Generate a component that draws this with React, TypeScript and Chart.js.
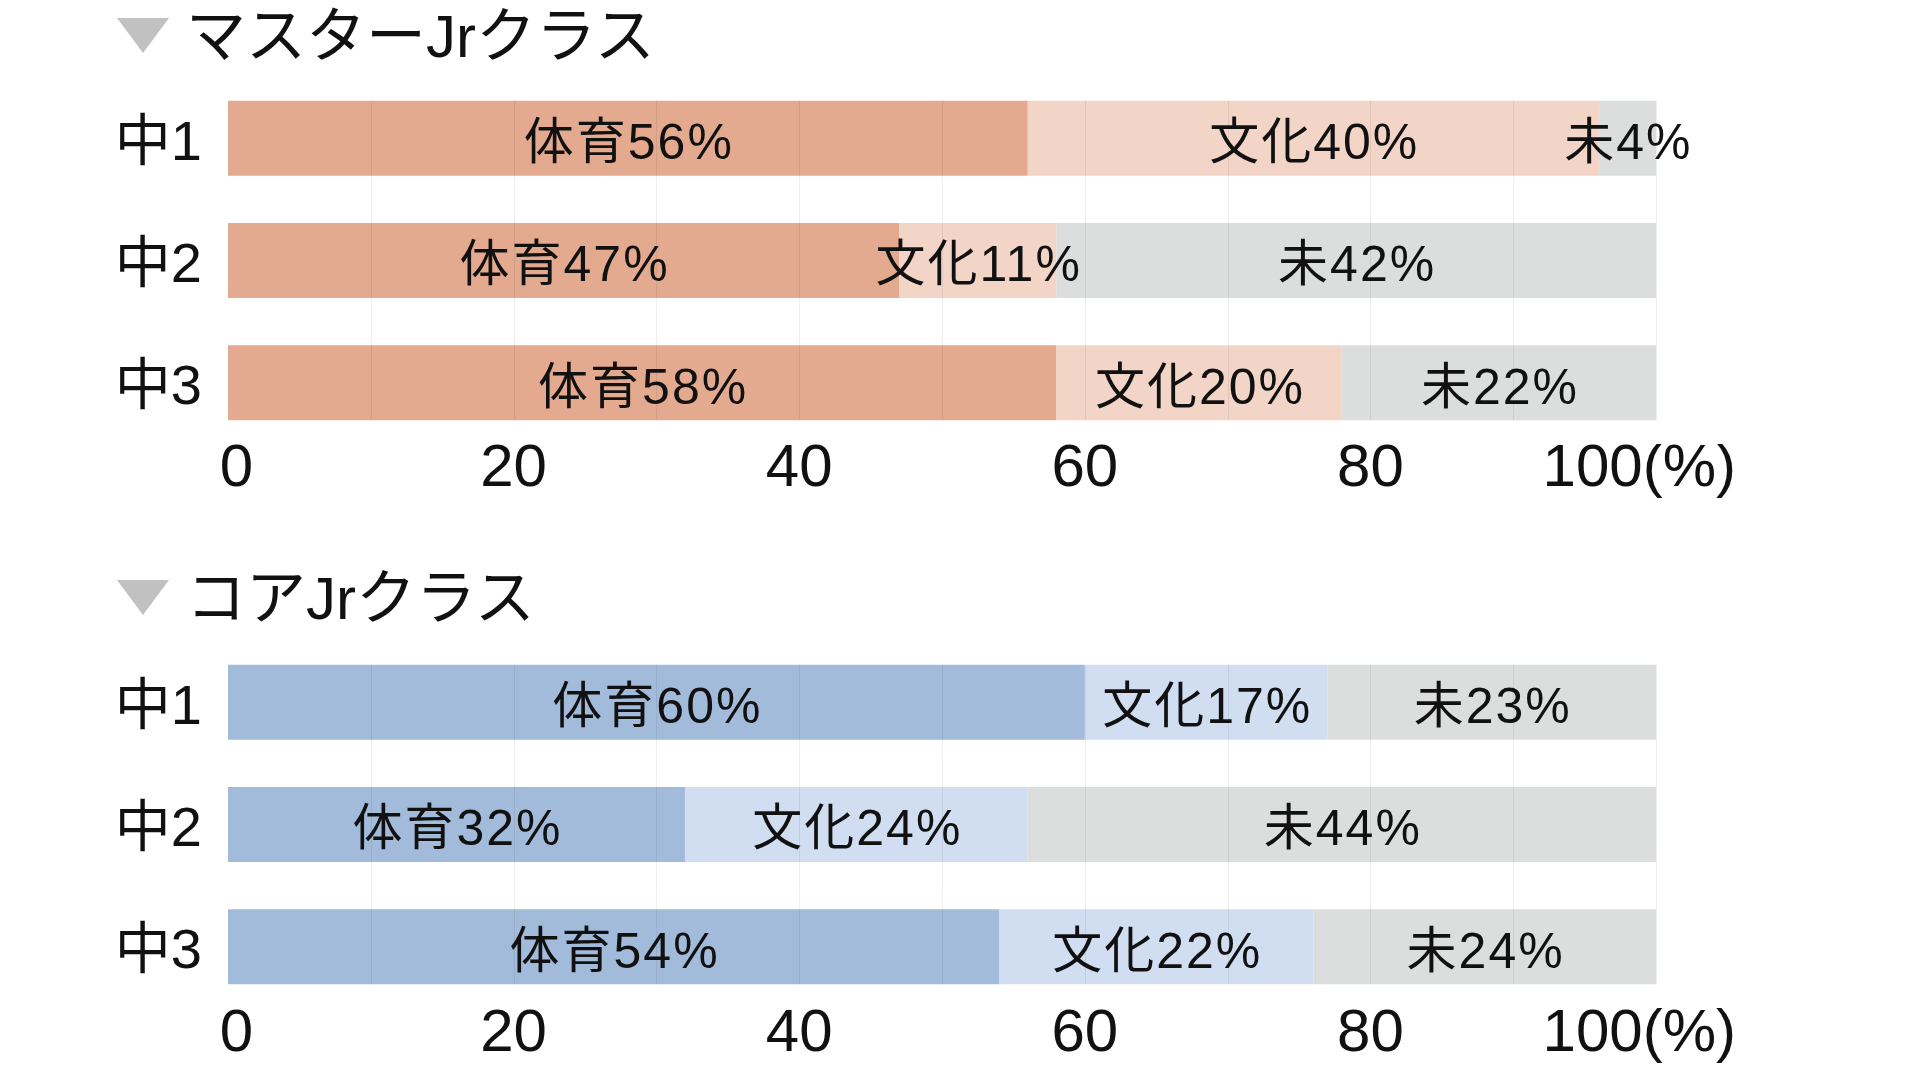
import React, { useEffect, useRef } from 'react';
import { Chart, registerables } from 'chart.js';

Chart.register(...registerables);

// ---- data ----
const grades = ['中1', '中2', '中3'];
const seriesNames = ['体育', '文化', '未'];

const masterSports = [56, 47, 58];
const masterCulture = [40, 11, 20];
const masterNone = [4, 42, 22];

const coreSports = [60, 32, 54];
const coreCulture = [17, 24, 22];
const coreNone = [23, 44, 24];

const xTickValues = [0, 20, 40, 60, 80, 100];
const xTickLabels = [' 0', '20', '40', '60', '80', '100(%)  '];
const gridValues = [10, 20, 30, 40, 50, 60, 70, 80, 90, 100];

const masterTitle = 'マスターJrクラス';
const coreTitle = 'コアJrクラス';

const masterColors = ['#E4AA90', '#F2D5C7', '#DCDEDD'];
const coreColors = ['#A3BBDA', '#D1DDF0', '#DCDEDD'];

const FONT = "'Liberation Sans', 'Noto Sans CJK JP', sans-serif";

const overlayPlugin = {
  id: 'overlay',
  afterDatasetsDraw(chart: any) {
    const ctx = chart.ctx;
    const xs = chart.scales.x;
    const metas = chart.getSortedVisibleDatasetMetas();
    if (!metas.length) return;
    const rows = metas[0].data;
    const f = rows[0].getProps(['y', 'height'], true);
    const l = rows[rows.length - 1].getProps(['y', 'height'], true);
    const top = f.y - f.height / 2;
    const bottom = l.y + l.height / 2;
    ctx.save();
    ctx.strokeStyle = 'rgba(0,0,0,0.065)';
    ctx.lineWidth = 1;
    gridValues.forEach((v) => {
      const px = Math.round(xs.getPixelForValue(v)) + 0.5;
      ctx.beginPath();
      ctx.moveTo(px, top);
      ctx.lineTo(px, bottom);
      ctx.stroke();
    });
    ctx.font = `50px ${FONT}`;
    try {
      (ctx as any).letterSpacing = '2px';
    } catch (e) {}
    ctx.textAlign = 'center';
    ctx.textBaseline = 'middle';
    ctx.fillStyle = '#111';
    metas.forEach((meta: any, di: number) => {
      meta.data.forEach((bar: any, i: number) => {
        const p = bar.getProps(['x', 'y', 'base'], true);
        const v = chart.data.datasets[meta.index].data[i];
        ctx.fillText(`${seriesNames[di]}${v}%`, (p.x + p.base) / 2 + 1, p.y + 7);
      });
    });
    try {
      (ctx as any).letterSpacing = '0px';
    } catch (e) {}
    ctx.restore();
  },
};

type Props = {
  sports: number[];
  culture: number[];
  none: number[];
  colors: string[];
  padTop: number;
  axisHeight: number;
  tickPad: number;
};

function StackChart({ sports, culture, none, colors, padTop, axisHeight, tickPad }: Props) {
  const ref = useRef<HTMLCanvasElement>(null);
  useEffect(() => {
    const chart = new Chart(ref.current as HTMLCanvasElement, {
      type: 'bar',
      data: {
        labels: grades,
        datasets: [
          { label: seriesNames[0], data: sports, backgroundColor: colors[0] },
          { label: seriesNames[1], data: culture, backgroundColor: colors[1] },
          { label: seriesNames[2], data: none, backgroundColor: colors[2] },
        ],
      },
      options: {
        indexAxis: 'y',
        responsive: false,
        animation: false,
        devicePixelRatio: 1,
        layout: { padding: { top: padTop, bottom: 0, left: 0, right: 264 } },
        plugins: {
          legend: { display: false },
          tooltip: { enabled: false },
          title: { display: false },
        },
        datasets: {
          bar: { barPercentage: 0.613, categoryPercentage: 1, borderWidth: 0 },
        },
        scales: {
          x: {
            stacked: true,
            min: 0,
            max: 100,
            position: 'bottom',
            grid: { display: false },
            border: { display: false },
            afterBuildTicks: (s: any) => {
              s.ticks = xTickValues.map((v) => ({ value: v }));
            },
            afterFit: (s: any) => {
              s.height = axisHeight;
            },
            ticks: {
              callback: (_v: any, i: number) => xTickLabels[i],
              font: { family: FONT, size: 60, lineHeight: 1 },
              color: '#111',
              padding: tickPad,
              maxRotation: 0,
              autoSkip: false,
            },
          },
          y: {
            stacked: true,
            grid: { display: false },
            border: { display: false },
            afterFit: (s: any) => {
              s.width = 228;
            },
            ticks: {
              font: { family: FONT, size: 56 },
              color: '#111',
              padding: 18,
              labelOffset: 6,
            },
          },
        },
      } as any,
      plugins: [overlayPlugin],
    });
    return () => chart.destroy();
  }, []);
  return <canvas ref={ref} width={1920} height={540} style={{ display: 'block', width: 1920, height: 540 }} />;
}

function Title({ top, text }: { top: number; text: string }) {
  return (
    <>
      <div
        style={{
          position: 'absolute',
          left: 117,
          top: top + 11,
          width: 0,
          height: 0,
          borderLeft: '26px solid transparent',
          borderRight: '26px solid transparent',
          borderTop: '35px solid #C0C1C0',
        }}
      />
      <div
        style={{
          position: 'absolute',
          left: 186,
          top: top,
          fontFamily: FONT,
          fontSize: 60,
          lineHeight: '60px',
          color: '#111',
          whiteSpace: 'nowrap',
        }}
      >
        {text}
      </div>
    </>
  );
}

export default function App() {
  return (
    <div
      style={{
        position: 'fixed',
        left: 0,
        top: 0,
        width: 1920,
        height: 1080,
        background: '#fff',
        overflow: 'hidden',
      }}
    >
      <div style={{ position: 'absolute', left: 0, top: 0 }}>
        <StackChart
          sports={masterSports}
          culture={masterCulture}
          none={masterNone}
          colors={masterColors}
          padTop={77}
          axisHeight={96}
          tickPad={-13}
        />
      </div>
      <div style={{ position: 'absolute', left: 0, top: 540 }}>
        <StackChart
          sports={coreSports}
          culture={coreCulture}
          none={coreNone}
          colors={coreColors}
          padTop={101}
          axisHeight={72}
          tickPad={-12}
        />
      </div>
      <Title top={7} text={masterTitle} />
      <Title top={569} text={coreTitle} />
    </div>
  );
}
